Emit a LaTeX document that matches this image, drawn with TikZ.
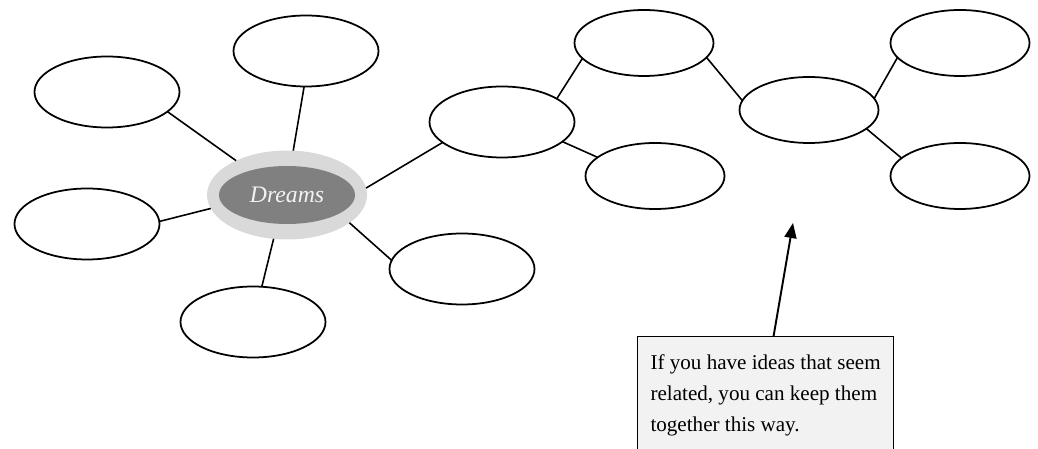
\documentclass[tikz,border=0pt]{standalone}
\usepackage{fontspec}
\setmainfont{Liberation Serif}
\usepackage{tikz}
\usetikzlibrary{shapes.geometric,arrows.meta}

\definecolor{dreamsdark}{HTML}{808080}
\definecolor{dreamslight}{HTML}{D9D9D9}
\definecolor{notefill}{HTML}{F2F2F2}

\begin{document}
\begin{tikzpicture}[
    bubble/.style={ellipse, draw, line width=1pt, minimum width=2.9cm, minimum height=1.42cm, inner sep=0pt, outer sep=0pt},
    smallbubble/.style={bubble, minimum width=2.78cm, minimum height=1.32cm},
    link/.style={line width=0.9pt}
]
    \clip (0,0) rectangle (20.76,8.98);

    % Centre idea
    \node[ellipse, fill=dreamslight, minimum width=3.2cm, minimum height=1.78cm, inner sep=0pt, outer sep=0pt] (dreamsbg) at (5.74,5.08) {};
    \node[ellipse, fill=dreamsdark, minimum width=2.72cm, minimum height=1.16cm, inner sep=0pt,
          text=notefill, font=\itshape\fontsize{13.5}{15}\selectfont] (dreams) at (5.74,5.08) {Dreams};

    % Bubbles round the centre
    \node[bubble] (e1) at (2.14,7.14) {};
    \node[bubble] (e2) at (6.12,7.96) {};
    \node[bubble] (e3) at (1.74,4.50) {};
    \node[bubble] (e4) at (5.06,2.54) {};
    \node[bubble] (e5) at (9.24,3.60) {};

    % Chain of related ideas
    \node[bubble] (e6) at (10.04,6.54) {};
    \node[smallbubble] (e7) at (12.88,8.12) {};
    \node[smallbubble] (e8) at (13.10,5.46) {};
    \node[smallbubble] (e9) at (16.18,6.78) {};
    \node[smallbubble] (e10) at (19.20,8.12) {};
    \node[smallbubble] (e11) at (19.20,5.46) {};

    % Links
    \draw[link] (e1.-18) -- (dreamsbg.146);
    \draw[link] (e2.-93) -- (dreamsbg.82);
    \draw[link] (e3.2) -- (dreamsbg.190);
    \draw[link] (e4.76) -- (dreamsbg.-107);
    \draw[link] (e5.173) -- (dreamsbg.-24);
    \draw[link] (dreamsbg.5) -- (e6.-161);
    \draw[link] (e6.23) -- (e7.-166);
    \draw[link] (e6.-18) -- (e8.162);
    \draw[link] (e7.-13) -- (e9.172);
    \draw[link] (e9.10) -- (e10.-167);
    \draw[link] (e9.-18) -- (e11.163);

    % Note with arrow
    \node[draw, line width=0.6pt, fill=notefill, anchor=north west, align=left, minimum width=5.12cm,
          inner xsep=0.26cm, inner ysep=0.37cm, font=\fontsize{12}{17.4}\selectfont] (note) at (12.74,2.26)
    {If you have ideas that seem\\related, you can keep them\\together this way.};
    \coordinate (tip) at (15.86,4.52);
    \draw[line width=1.1pt, -{Triangle[length=3mm,width=2.4mm]}] ([xshift=0.16cm]note.north) -- (tip);

\end{tikzpicture}
\end{document}
